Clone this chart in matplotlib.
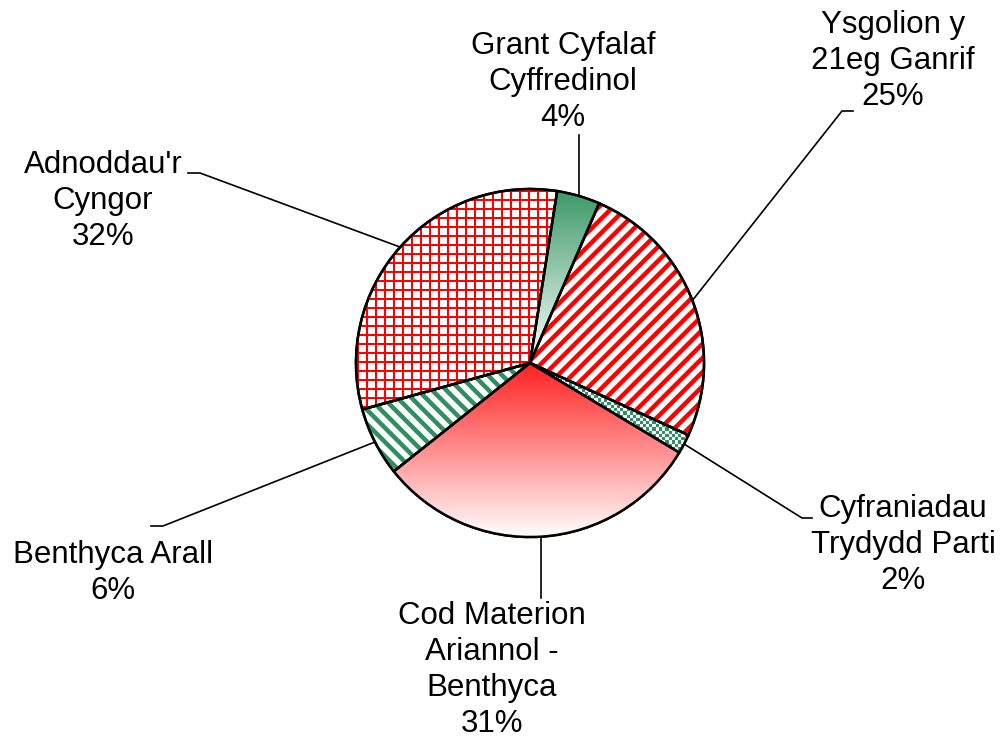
import numpy as np
import matplotlib
matplotlib.use('Agg')
import matplotlib.pyplot as plt
from matplotlib.collections import LineCollection
from matplotlib.colors import LinearSegmentedColormap, to_rgb

# slices, clockwise from the top
names = ["Grant Cyfalaf\nCyffredinol", "Ysgolion y\n21eg Ganrif",
         "Cyfraniadau\nTrydydd Parti", "Cod Materion\nAriannol -\nBenthyca",
         "Benthyca Arall", "Adnoddau'r\nCyngor"]
shares = [4.0, 25.3, 1.8, 30.7, 6.4, 31.8]

RED = '#ff0000'
GREEN = '#2f8f5f'

# pixel geometry of the picture
W, H = 1004, 740
CX, CY, R = 530, 363, 174

def px(x, y):
    return ((x - CX) / R, (CY - y) / R)

# label centre, elbow and end of leader line (pixels)
label_pos = [(563, 82), (893, 61), (903, 545), (492, 670), (113, 573), (103, 201)]
leaders = [(None, 135), ((842, 111), (853, 111)), ((802, 518), (812, 518)),
           (None, 598), ((163, 526), (151, 526)), ((200, 173), (188, 173))]

plt.rcParams['font.family'] = ['Liberation Sans', 'DejaVu Sans']

fig = plt.figure(figsize=(W / 100, H / 100), dpi=100)
ax = fig.add_axes([0, 0, 1, 1])

wedges, _ = ax.pie(shares, startangle=81, counterclock=False, radius=1,
                   wedgeprops=dict(facecolor='white', edgecolor='black',
                                   linewidth=1.8, zorder=1))
outline, _ = ax.pie(shares, startangle=81, counterclock=False, radius=1,
                    wedgeprops=dict(facecolor='none', edgecolor='black',
                                    linewidth=1.8, zorder=5))


def gradient(w, top, bottom):
    ys = w.get_path().vertices[:, 1]
    cmap = LinearSegmentedColormap.from_list('g', [bottom, top])
    img = np.linspace(0, 1, 256).reshape(-1, 1)
    im = ax.imshow(img, cmap=cmap, origin='lower', aspect='auto',
                   extent=(-1, 1, ys.min(), ys.max()), zorder=2,
                   interpolation='bilinear')
    im.set_clip_path(w)


def stripes(w, color, angle, pitch, width):
    # parallel lines at 'angle' degrees, pitch and width in pixels
    a = np.deg2rad(angle)
    d = np.array([np.cos(a), np.sin(a)])
    n = np.array([-d[1], d[0]])
    segs = []
    for off in np.arange(-1.6, 1.6, pitch / R):
        c = n * off
        segs.append([c - 2 * d, c + 2 * d])
    lc = LineCollection(segs, colors=color, linewidths=width * 0.72, zorder=2)
    ax.add_collection(lc)
    lc.set_clip_path(w)


def checker(w, color, cell):
    n = int(2 / cell)
    ii, jj = np.indices((n, n))
    board = (ii + jj) % 2
    img = np.ones((n, n, 3))
    img[board == 1] = to_rgb(color)
    im = ax.imshow(img, origin='lower', aspect='auto', extent=(-1, 1, -1, 1),
                   zorder=2, interpolation='nearest')
    im.set_clip_path(w)


gradient(wedges[0], '#3d9968', '#ffffff')
stripes(wedges[1], RED, 45, 10.0, 4.5)
checker(wedges[2], GREEN, 3.2 / R)
gradient(wedges[3], '#ff1f1f', '#ffffff')
stripes(wedges[4], GREEN, -45, 10.0, 4.5)
stripes(wedges[5], RED, 0, 9.0, 2.0)
stripes(wedges[5], RED, 90, 9.0, 2.0)

for w, name, share, pos, (elbow, end) in zip(wedges, names, shares,
                                              label_pos, leaders):
    mid = np.deg2rad((w.theta1 + w.theta2) / 2)
    ex, ey = np.cos(mid), np.sin(mid)
    if elbow is None:
        xs = [ex, ex]
        ys = [ey, px(0, end)[1]]
    else:
        (x1, y1), (x2, y2) = px(*elbow), px(*end)
        xs = [ex, x1, x2]
        ys = [ey, y1, y2]
    ax.plot(xs, ys, color='black', linewidth=1.2, zorder=4)
    tx, ty = px(*pos)
    ax.text(tx, ty, '%s\n%d%%' % (name, round(share)), ha='center',
            va='center', multialignment='center', fontsize=22.5,
            linespacing=1.25, color='black')

x0, y0 = px(0, H)
x1, y1 = px(W, 0)
ax.set_xlim(x0, x1)
ax.set_ylim(y0, y1)
ax.set_aspect('auto')
ax.axis('off')

plt.savefig('out.png', dpi=100)
